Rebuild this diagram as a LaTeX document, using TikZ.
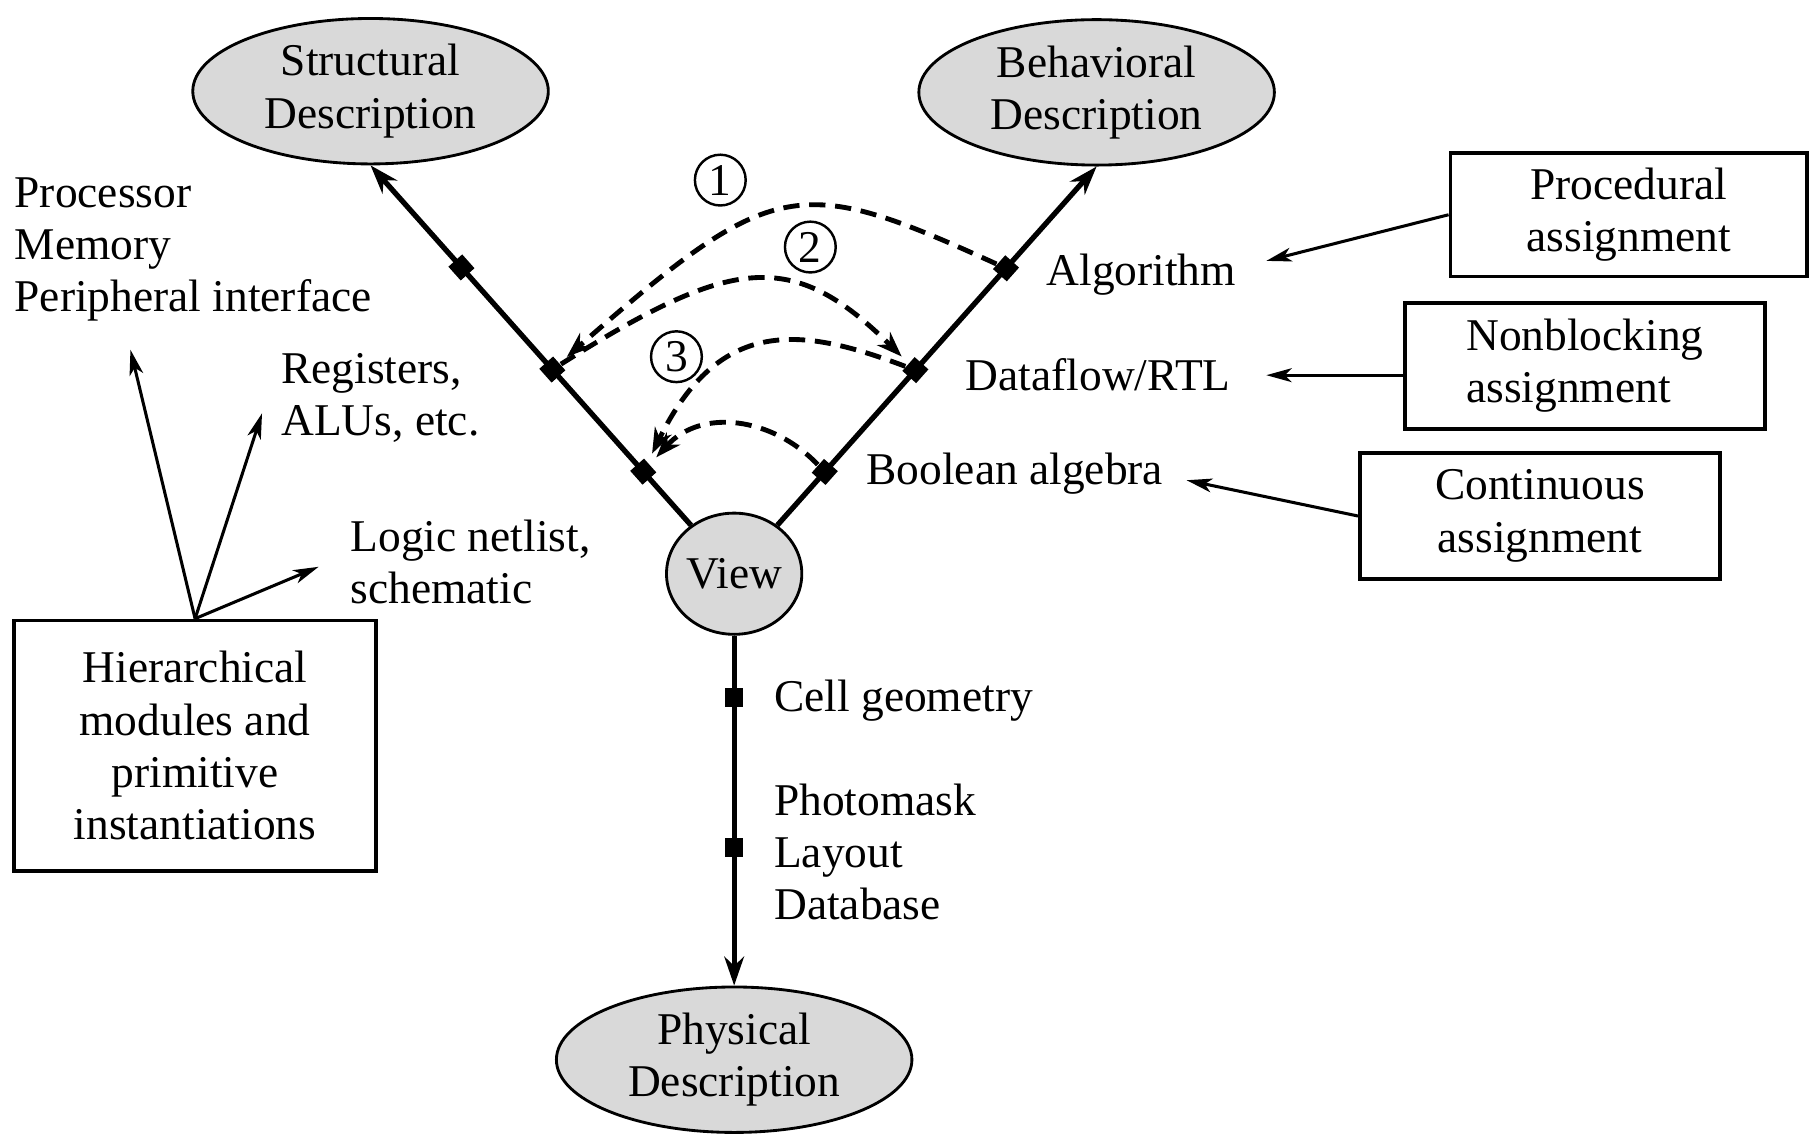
\documentclass[tikz,border=0pt]{standalone}
\usepackage{fontspec}
\setmainfont{Liberation Serif}
\usetikzlibrary{shapes, arrows.meta}

\tikzset{
	desc/.style = {ellipse, draw, line width=0.7pt, fill=gray!30, inner sep=0pt,
		minimum width=30.8mm, minimum height=12.6mm, align=center},
	txtbox/.style = {rectangle, draw, line width=0.9pt, inner sep=0pt,
		minimum width=31.2mm, minimum height=10.9mm, align=center},
	joint/.style = {rectangle, fill=black, inner sep=0pt, minimum size=1.6mm, sloped},
	num/.style = {circle, draw, line width=0.6pt, inner sep=0pt, minimum size=4.4mm},
	lbl/.style = {inner sep=0pt, anchor=west, align=left},
	main/.style = {line width=1.3pt, -{Stealth[length=2.5mm, width=1.7mm, inset=0.8mm]}},
	flow/.style = {line width=1.2pt, dash pattern=on 4pt off 2.4pt, shorten >=0.8mm,
		-{Stealth[length=2.2mm, width=1.6mm, inset=0.7mm]}},
	hint/.style = {line width=0.75pt, -{Stealth[length=2.2mm, width=1.2mm, inset=0.6mm]}}
}

\begin{document}
\begin{tikzpicture}[x=0.1mm, y=-0.1mm, font=\fontsize{11.2}{12.9}\selectfont]
	\useasboundingbox (0,0) rectangle (1568,982);
	
	%% Descriptions
	\node [desc] (struc) at (321,79) {Structural\\Description};
	\node [desc] (behav) at (950,80) {Behavioral\\Description};
	\node [desc] (phys) at (636,918) {Physical\\Description};
	\node [desc, minimum width=10.6mm, minimum height=10.5mm] (view) at (636,497) {View};
	
	%% Axes
	\draw [main] (view) -- (struc.south);
	\draw [main] (view) -- (behav.south);
	\draw [main] (view) -- (phys);
	
	\path (view.center) -- (struc.south)
		node [joint, pos=0.25] (s1) {}
		node [joint, pos=0.5] (s2) {}
		node [joint, pos=0.75] (s3) {};
	\path (view.center) -- (behav.south)
		node [joint, pos=0.25] (b1) {}
		node [joint, pos=0.5] (b2) {}
		node [joint, pos=0.75] (b3) {};
	\path (view.center) -- (phys.north)
		node [joint, pos=0.3] (p1) {}
		node [joint, pos=0.665] (p2) {};
	
	%% Structural side
	\node [lbl] (proc) at (12,216) {Processor\\Memory\\Peripheral interface};
	\node [lbl] (regs) at (243,345) {Registers,\\ALUs, etc.};
	\node [lbl] (logic) at (303,487) {Logic netlist,\\schematic};
	\node [txtbox, minimum width=31.4mm, minimum height=21.7mm] (hier) at (169,646)
		{Hierarchical\\modules and\\primitive\\instantiations};
	
	\coordinate (pTip) at (113,303);
	\coordinate (rTip) at (227,358);
	\coordinate (lTip) at (276,491);
	\draw [hint] (hier.north) -- (pTip);
	\draw [hint] (hier.north) -- (rTip);
	\draw [hint] (hier.north) -- (lTip);
	
	%% Behavioral side
	\node [lbl] (algo) at (906,238) {Algorithm};
	\node [lbl] (dflow) at (836,325) {Dataflow/RTL};
	\node [lbl] (bool) at (750,410) {Boolean algebra};
	\node [txtbox, minimum width=30.9mm, minimum height=10.7mm] (procbox) at (1411,186)
		{Procedural\\assignment};
	\node [txtbox, align=left] (nbbox) at (1373,317) {Nonblocking\\assignment};
	\node [txtbox] (contbox) at (1334,447) {Continuous\\assignment};
	
	\coordinate (aTip) at (1097,226);
	\coordinate (dTip) at (1097,325);
	\coordinate (bTip) at (1028,416);
	\draw [hint] (procbox.west) -- (aTip);
	\draw [hint] (nbbox.west |- dTip) -- (dTip);
	\draw [hint] (contbox.west) -- (bTip);
	
	%% Physical side
	\node [lbl] (cell) at (670,607) {Cell geometry};
	\node [lbl] (mask) at (670,738) {Photomask\\Layout\\Database};
	
	%% Design flow
	\draw [flow] (b3) .. controls +(-180,-82) and +(192,-168) .. (s2);
	\draw [flow] (s2) .. controls +(156,-98) and +(-107,-106) .. (b2);
	\draw [flow] (b2) .. controls +(-96,-36) and +(67,-137) .. (s1);
	\draw [flow] (b1) .. controls +(-46,-48) and +(50,-55) .. (s1);
	
	\node [num] (n1) at (624,156) {1};
	\node [num] (n2) at (702,214) {2};
	\node [num] (n3) at (586,309) {3};
\end{tikzpicture}
\end{document}
